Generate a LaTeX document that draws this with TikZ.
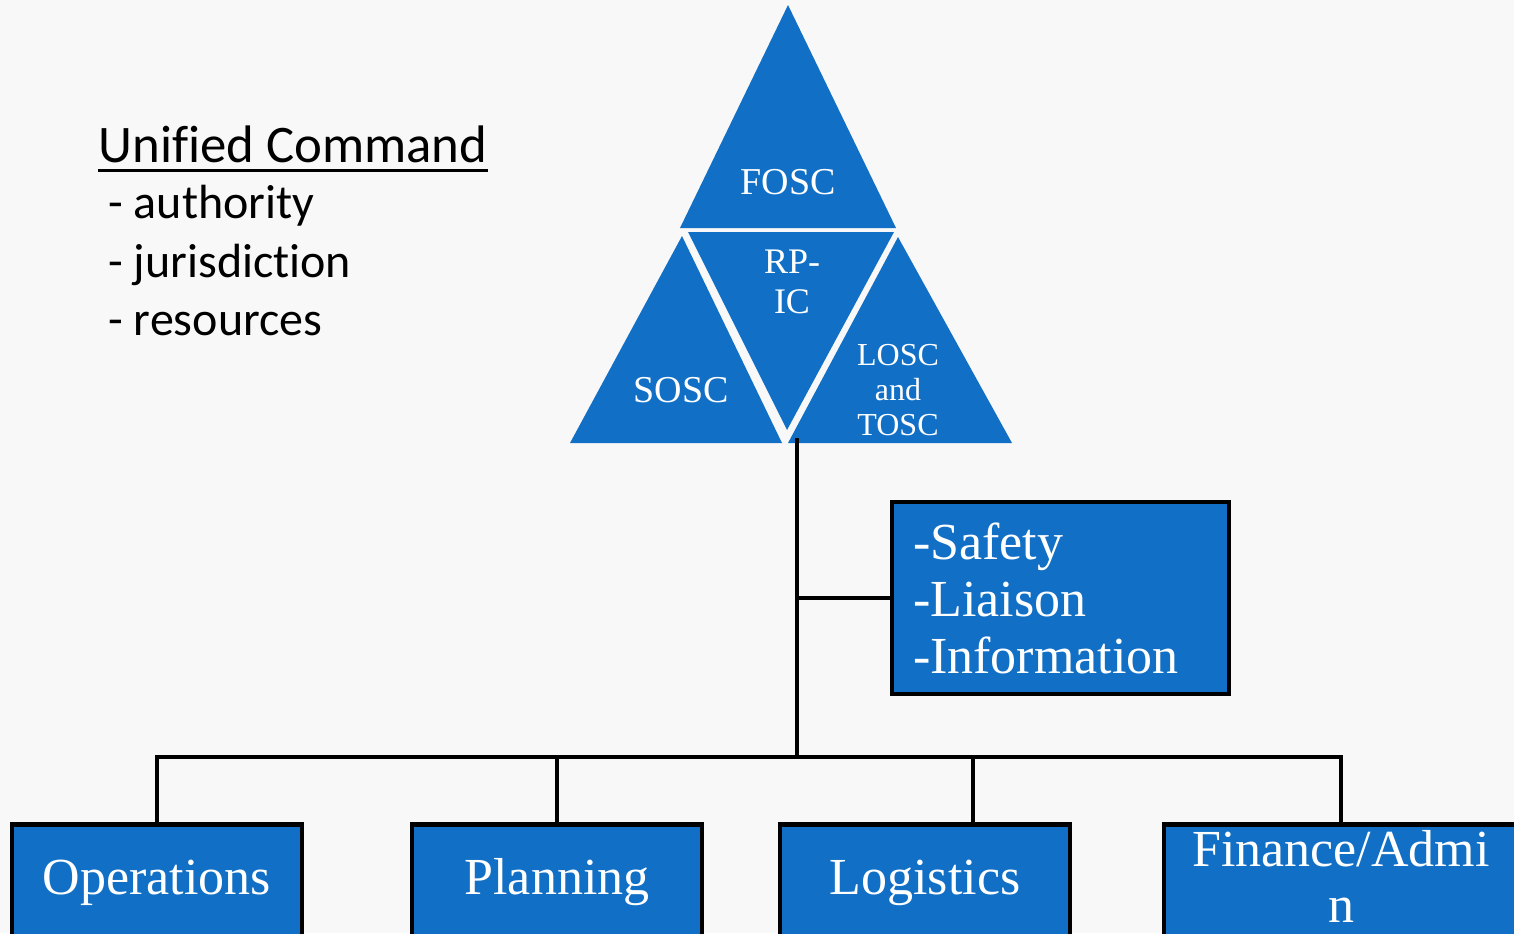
\documentclass[tikz,border=0pt]{standalone}
\usepackage{fontspec}
\setmainfont{Liberation Serif}
\newfontfamily\calfont[Ligatures=NoCommon]{Carlito}
\usetikzlibrary{calc,positioning}
\definecolor{ucblue}{RGB}{17,112,198}
\definecolor{bggray}{RGB}{248,248,248}

\begin{document}
\begin{tikzpicture}[x=0.5pt,y=-0.5pt]
      \tikzstyle{tnode} = [text=white, align=center, inner sep=0pt]
      \tikzstyle{bnode} = [draw=black, line width=2.4pt, fill=ucblue, text=white, anchor=north, minimum width=145pt, minimum height=58pt, inner sep=0pt, font=\fontsize{26}{28}\selectfont]
      \tikzstyle{lnode} = [anchor=base west, inner sep=0pt, font=\calfont\fontsize{24}{28}\selectfont]
      \tikzstyle{conn} = [line width=2pt]

      \useasboundingbox (0,0) rectangle (1514,933);
      \fill[bggray] (0,0) rectangle (1514,933);

      % left text
      \node[lnode, font=\calfont\fontsize{26.4}{30}\selectfont] (title) at (98,162) {Unified Command};
      \draw[line width=1.5pt] ([yshift=-4pt]title.base west) -- ([yshift=-4pt]title.base east);
      \node[lnode] (auth) at (108,218) {- authority};
      \node[lnode] (juris) at (108,277) {- jurisdiction};
      \node[lnode] (res) at (108,335) {- resources};

      % triangles
      \fill[ucblue] (788,5) -- (896,228) -- (680,228) -- cycle;
      \fill[ucblue] (688,232) -- (894,232) -- (787,430) -- cycle;
      \fill[ucblue] (682,236) -- (782,443) -- (570,443) -- cycle;
      \fill[ucblue] (898,237) -- (1012,443) -- (788,443) -- cycle;
      \node[tnode, font=\fontsize{19}{20}\selectfont] (fosc) at (788,182) {FOSC};
      \node[tnode, font=\fontsize{18}{20}\selectfont] (rpic) at (792,282) {RP-\\IC};
      \node[tnode, font=\fontsize{19}{20}\selectfont] (sosc) at (681,390) {SOSC};
      \node[tnode, font=\fontsize{16}{17.5}\selectfont] (losc) at (898,390) {LOSC\\and\\TOSC};

      % boxes
      \node[bnode, anchor=center, minimum width=168.5pt, minimum height=96pt, align=left,
            text width=147.5pt, inner xsep=10.5pt, font=\fontsize{26}{28.5}\selectfont] (staff) at (1060.5,598)
            {-Safety\\-Liaison\\-Information};
      \node[bnode] (ops) at (157,822) {Operations};
      \node[bnode] (plan) at (557,822) {Planning};
      \node[bnode] (logi) at (925,822) {Logistics};
      \node[bnode, minimum width=177pt, align=center, text depth=6pt] (fin) at (1341,822) {Finance/Admi\\n};

      % connectors
      \coordinate (ctop) at (797,438);
      \coordinate (bus) at (797,757);
      \coordinate (dlog) at (973,757);
      \draw[conn] (ctop) -- (bus);
      \draw[conn] (ctop |- staff.west) -- (staff.west);
      \draw[conn] (ops.north) -- (ops.north |- bus) -- (fin.north |- bus) -- (fin.north);
      \draw[conn] (plan.north |- bus) -- (plan.north);
      \draw[conn] (dlog) -- (dlog |- logi.north);
\end{tikzpicture}
\end{document}
